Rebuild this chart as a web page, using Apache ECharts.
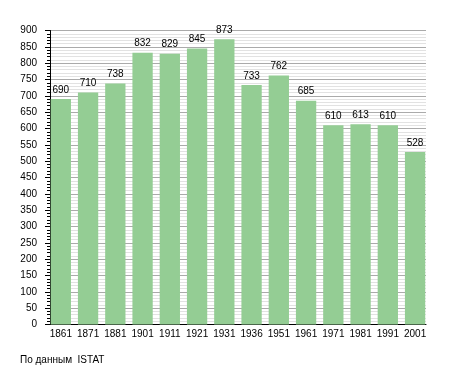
<!DOCTYPE html>
<html>
<head>
<meta charset="utf-8">
<script src="https://cdn.jsdelivr.net/npm/echarts@6/dist/echarts.min.js"></script>
<style>html,body{margin:0;padding:0;background:#fff}#c{width:455px;height:373px}</style>
</head>
<body>
<div id="c"></div>
<script>
const years = ['1861','1871','1881','1901','1911','1921','1931','1936','1951','1961','1971','1981','1991','2001'];
const population = [690, 710, 738, 832, 829, 845, 873, 733, 762, 685, 610, 613, 610, 528];
const yMin = 0, yMax = 900, yStep = 50;
const sourceText = 'По данным  ISTAT';

const font = 'Liberation Sans, Arial, sans-serif';
const chart = echarts.init(document.getElementById('c'), null, {renderer: 'canvas'});
chart.setOption({
  backgroundColor: '#ffffff',
  animation: false,
  title: {
    text: sourceText, left: 15, top: 350,
    textStyle: {fontFamily: font, fontSize: 10, fontWeight: 'normal', color: '#000'}
  },
  grid: [
    {left: 50, top: 30.5, width: 376, height: 294, containLabel: false},
    {left: 47.2, top: 30.5, width: 381.5, height: 294, containLabel: false}
  ],
  xAxis: [
    {type: 'category', gridIndex: 0, data: years,
     axisLine: {show: true, lineStyle: {color: '#000', width: 1}},
     axisTick: {show: false}, axisLabel: {show: false}, splitLine: {show: false}},
    {type: 'category', gridIndex: 1, data: years,
     axisLine: {show: false}, axisTick: {show: false},
     axisLabel: {show: true, margin: 5, color: '#000', fontFamily: font, fontSize: 10, interval: 0},
     splitLine: {show: false}}
  ],
  yAxis: [
    {type: 'value', gridIndex: 0, min: yMin, max: yMax, interval: yStep,
     axisLine: {show: true, lineStyle: {color: '#000', width: 1}},
     axisTick: {show: true, length: 5, lineStyle: {color: '#000'}},
     minorTick: {show: true, splitNumber: 5, length: 3, lineStyle: {color: '#000'}},
     axisLabel: {margin: 13, color: '#000', fontFamily: font, fontSize: 10},
     splitLine: {show: true, lineStyle: {color: '#aaaaaa', width: 1}},
     minorSplitLine: {show: true, lineStyle: {color: '#e2e2e2', width: 1}}},
    {type: 'value', gridIndex: 1, min: yMin, max: yMax, interval: yStep, show: false,
     splitLine: {show: false}}
  ],
  series: [{
    type: 'bar', xAxisIndex: 1, yAxisIndex: 1,
    data: population, barWidth: 20.3,
    itemStyle: {color: '#94cd94'},
    label: {show: true, position: 'top', distance: 4, color: '#000', fontFamily: font, fontSize: 10}
  }]
});
</script>
</body>
</html>
